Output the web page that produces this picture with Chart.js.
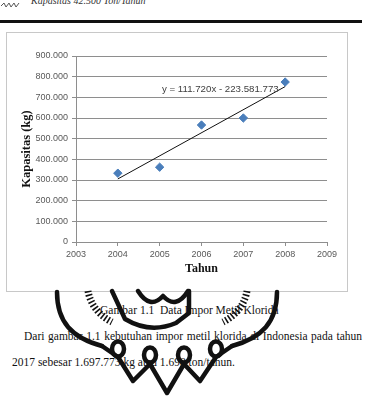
<!DOCTYPE html>
<html><head><meta charset="utf-8">
<script src="https://cdn.jsdelivr.net/npm/chart.js@4/dist/chart.umd.min.js"></script>
<style>
html,body{margin:0;padding:0;background:#fff;width:366px;height:400px;overflow:hidden;position:relative;font-family:"Liberation Serif","Times New Roman",serif;color:#111;}
#hdr{position:absolute;left:31px;top:-5px;font-style:italic;font-size:10px;color:#333;white-space:nowrap;}
#rule{position:absolute;left:0;top:20px;width:362px;height:3px;margin:0;border:0;background:#111;}
#rc{position:absolute;left:0;top:20px;}
#box{position:absolute;left:6px;top:32px;width:342px;height:260px;border:1.5px solid #c8c8c8;box-sizing:border-box;}
#wrap{position:absolute;left:7px;top:34px;width:340px;height:256px;}
#cap{position:absolute;left:100px;top:302px;font-size:11.5px;white-space:pre;line-height:16px;}
#l1{position:absolute;left:24px;top:328px;width:338px;font-size:11.5px;line-height:16px;text-align:justify;text-align-last:justify;}
#l2{position:absolute;left:12px;top:354px;font-size:11.5px;line-height:16px;white-space:nowrap;}
#wm{position:absolute;left:0;top:0;pointer-events:none;}
</style></head>
<body>
<div id="hdr">Kapasitas 42.500 Ton/Tahun</div>
<hr id="rule">
<canvas id="rc" width="362" height="3"></canvas>
<div id="box"></div>
<div id="wrap"><canvas id="c" width="340" height="256"></canvas></div>
<div id="cap">Gambar 1.1  Data Impor Metil Klorida</div>
<div id="l1">Dari gambar 1.1 kebutuhan impor metil klorida di Indonesia pada tahun</div>
<div id="l2">2017 sebesar 1.697.773 kg atau 1.698 ton/tahun.</div>
<svg id="wm" width="366" height="400">
 <path d="M1,6 l3,-3 l2,4 l3,-4 l2,4 l3,-4 l2,4 l3,-4" stroke="#555" stroke-width="1" fill="none"/>
 <g stroke="#111" stroke-width="4.5" fill="none" stroke-linecap="round" stroke-linejoin="round">
  <path d="M57,292 C57,322 72,338 102,346"/>
  <path d="M277,292 C277,322 262,338 232,346"/>
  <path d="M102,346 L118,357 L133,381 L150,364 L167,393 L184,364 L200,381 L216,357 L232,346"/>
  <ellipse cx="118" cy="349" rx="6" ry="7.5"/>
  <ellipse cx="150" cy="355" rx="6" ry="7.5"/>
  <ellipse cx="184" cy="355" rx="6" ry="7.5"/>
  <ellipse cx="216" cy="349" rx="6" ry="7.5"/>
  <path d="M112,291 L125,319 Q150,334 176,323 L189,313 L189,291"/>
  <path d="M138,291 Q150,310 163,296 Q176,310 188,291"/>
  <path d="M88,291 C90,303 98,315 112,322" stroke-width="7" stroke-dasharray="1.6 2" stroke-linecap="butt"/>
  <path d="M247,291 C245,303 237,315 223,322" stroke-width="7" stroke-dasharray="1.6 2" stroke-linecap="butt"/>
 </g>
</svg>
<script>
// ---- data ----
const years = [2004, 2005, 2006, 2007, 2008];
const kapasitas = [333000, 362000, 566000, 600000, 774000];
const yTicks = [0, 100000, 200000, 300000, 400000, 500000, 600000, 700000, 800000, 900000];
const xTicks = [2003, 2004, 2005, 2006, 2007, 2008, 2009];
const trendSlope = 111720;
const trendIntercept = -223581773;
const trendLabel = 'y = 111.720x - 223.581.773';
const xTitle = 'Tahun';
const yTitle = 'Kapasitas (kg)';

(function(){ const r = document.getElementById('rc').getContext('2d'); r.fillStyle = '#111'; r.fillRect(0, 0, 362, 3); })();

const fmt = v => String(Math.round(v)).replace(/\B(?=(\d{3})+(?!\d))/g, '.');
const points = years.map((x, i) => ({x, y: kapasitas[i]}));
const trendX = [years[0], years[years.length - 1]];
const trend = trendX.map(x => ({x, y: trendSlope * x + trendIntercept}));

const labelPlugin = {
  id: 'trendLabel',
  afterDatasetsDraw(chart) {
    const {ctx, scales} = chart;
    ctx.save();
    ctx.font = '9.7px "Liberation Sans", Arial, sans-serif';
    ctx.fillStyle = '#404040';
    ctx.textAlign = 'center';
    ctx.textBaseline = 'middle';
    ctx.fillText(trendLabel, scales.x.getPixelForValue(2006.45), scales.y.getPixelForValue(740000));
    ctx.restore();
  }
};

const gridCol = '#8e8e8e';
new Chart(document.getElementById('c'), {
  type: 'scatter',
  data: {
    datasets: [
      {type: 'line', data: trend, borderColor: '#111', borderWidth: 1, pointRadius: 0, fill: false, order: 0},
      {data: points, pointStyle: 'rectRot', pointRadius: 4.2, backgroundColor: '#4a7ebb', borderColor: '#4a7ebb', borderWidth: 1, order: 1}
    ]
  },
  options: {
    responsive: false, animation: false, devicePixelRatio: 1,
    layout: {padding: {left: 0, top: 22, right: 20, bottom: 0}},
    plugins: {legend: {display: false}, tooltip: {enabled: false}},
    scales: {
      x: {
        type: 'linear', min: xTicks[0], max: xTicks[xTicks.length - 1],
        afterFit: s => { s.height = 48; },
        afterBuildTicks: s => { s.ticks = xTicks.map(v => ({value: v})); },
        grid: {drawOnChartArea: false, drawTicks: true, tickLength: 4, color: gridCol},
        border: {color: gridCol, width: 1},
        ticks: {padding: 3, color: '#595959', font: {family: '"Liberation Sans", Arial, sans-serif', size: 9}, callback: v => String(v), maxRotation: 0},
        title: {display: true, text: xTitle, color: '#111', font: {family: '"Liberation Serif", "Times New Roman", serif', size: 12, weight: 'bold'}, padding: {top: 0, bottom: 14}}
      },
      y: {
        min: yTicks[0], max: yTicks[yTicks.length - 1],
        afterFit: s => { s.width = 69; },
        afterBuildTicks: s => { s.ticks = yTicks.map(v => ({value: v})); },
        grid: {color: gridCol, tickLength: 4, lineWidth: 1},
        border: {color: gridCol, width: 1},
        ticks: {padding: 4, color: '#595959', font: {family: '"Liberation Sans", Arial, sans-serif', size: 9}, callback: v => fmt(v)},
        title: {display: true, text: yTitle, color: '#111', font: {family: '"Liberation Serif", "Times New Roman", serif', size: 12.5, weight: 'bold'}, padding: {top: 12, bottom: 0}}
      }
    }
  },
  plugins: [labelPlugin]
});
</script>
</body></html>
